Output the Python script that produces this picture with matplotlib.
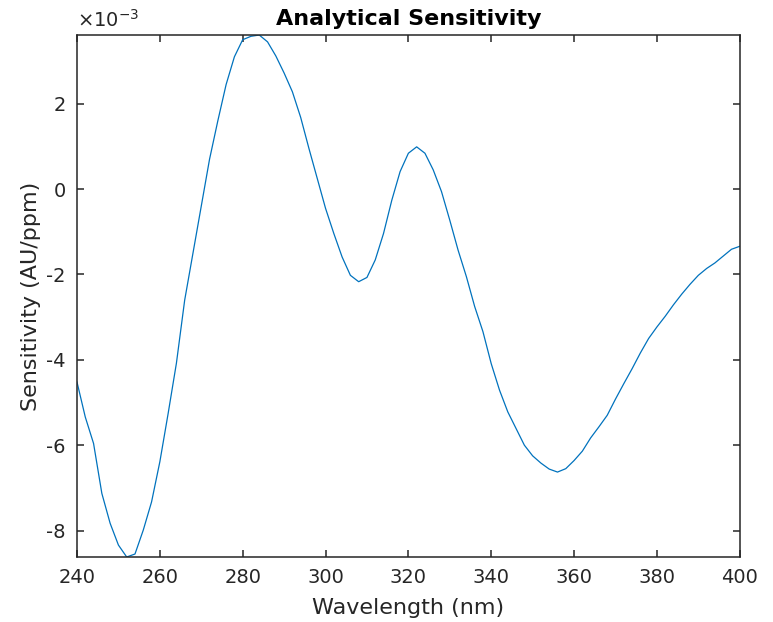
import numpy as np
import matplotlib
matplotlib.use('Agg')
import matplotlib.pyplot as plt
from matplotlib.ticker import FuncFormatter

plt.rcParams['font.family'] = ['DejaVu Sans']
plt.rcParams['axes.unicode_minus'] = False
plt.rcParams['mathtext.default'] = 'regular'

# wavelength grid (nm), 2 nm steps
wavelength = np.arange(240, 401, 2)
# sensitivity in units of 1e-3 AU/ppm
sens_e3 = [
    -4.52, -5.34, -5.96, -7.13, -7.83, -8.34, -8.62, -8.55, -7.99, -7.33,   # 240-258
    -6.39, -5.26, -4.08, -2.60, -1.50, -0.40, 0.70, 1.60, 2.45, 3.10,       # 260-278
    3.50, 3.58, 3.61, 3.45, 3.12, 2.72, 2.28, 1.68, 0.95, 0.25,             # 280-298
    -0.45, -1.04, -1.59, -2.02, -2.17, -2.07, -1.66, -1.04, -0.26, 0.41,    # 300-318
    0.84, 0.99, 0.84, 0.45, -0.06, -0.73, -1.43, -2.05, -2.75, -3.34,       # 320-338
    -4.09, -4.71, -5.22, -5.61, -6.00, -6.25, -6.42, -6.56, -6.63, -6.55,   # 340-358
    -6.36, -6.14, -5.83, -5.57, -5.30, -4.92, -4.56, -4.21, -3.84, -3.50,   # 360-378
    -3.23, -2.98, -2.71, -2.46, -2.23, -2.02, -1.86, -1.73, -1.57, -1.41,   # 380-398
    -1.34,                                                                  # 400
]
sensitivity = np.array(sens_e3) * 1e-3

axc = '#262626'
fig = plt.figure(figsize=(7.73, 6.22), dpi=100)
ax = fig.add_axes([0.0996, 0.1045, 0.8574, 0.8392])

ax.plot(wavelength, sensitivity, color='#0072BD', linewidth=0.9)

ax.set_xlim(240, 400)
ax.set_ylim(sensitivity.min(), sensitivity.max())
ax.set_xticks(np.arange(240, 401, 20))
ax.set_yticks(np.arange(-8, 3, 2) * 1e-3)

# matlab style: tick labels scaled by 1e3, exponent shown above the axis
ax.yaxis.set_major_formatter(FuncFormatter(lambda v, p: '%g' % round(v * 1e3, 6)))
ax.text(0.0, 1.008, r'$\times10^{-3}$', transform=ax.transAxes, fontsize=14,
        color=axc, ha='left', va='bottom')

for s in ax.spines.values():
    s.set_color(axc)
    s.set_linewidth(1.1)
ax.tick_params(direction='in', length=5, width=1.1, colors=axc, labelsize=14,
               top=True, right=True, labelcolor=axc, pad=8)

ax.set_xlabel('Wavelength (nm)', fontsize=16, color=axc, labelpad=8)
ax.set_ylabel('Sensitivity (AU/ppm)', fontsize=16, color=axc, labelpad=4)
ax.set_title('Analytical Sensitivity', fontsize=16, fontweight='bold', pad=7)

fig.savefig('out.png', dpi=100)
